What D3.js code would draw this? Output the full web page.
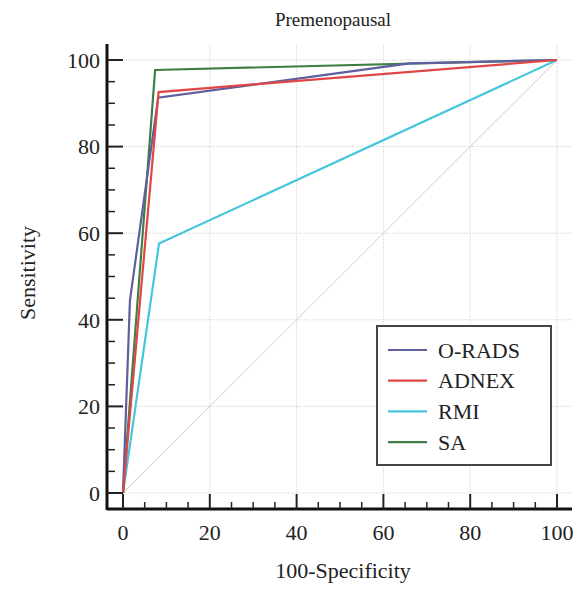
<!DOCTYPE html>
<html>
<head>
<meta charset="utf-8">
<script src="https://cdn.jsdelivr.net/npm/d3@7"></script>
<style>
  body { margin: 0; background: #fff; }
  text { font-family: "Liberation Serif", "Times New Roman", serif; }
</style>
</head>
<body>
<div id="chart"></div>
<script>
// ROC points (100-Specificity, Sensitivity)
var seriesNames = ["O-RADS", "ADNEX", "RMI", "SA"];
var seriesColors = ["#5d5f9e", "#e04646", "#45c6da", "#3f7f45"];
var oradsX = [0, 1.6, 8.1, 66, 100];
var oradsY = [0, 44.5, 91.3, 99.2, 100];
var adnexX = [0, 8.2, 100];
var adnexY = [0, 92.6, 100];
var rmiX = [0, 8.3, 100];
var rmiY = [0, 57.6, 100];
var saX = [0, 7.4, 100];
var saY = [0, 97.7, 100];
var tickValues = [0, 20, 40, 60, 80, 100];

var width = 583, height = 590;
var x = d3.scaleLinear().domain([0, 100]).range([123, 557]);
var y = d3.scaleLinear().domain([0, 100]).range([493, 60]);

var svg = d3.select('#chart').append('svg')
    .attr('width', width)
    .attr('height', height);

// grid
var grid = svg.append('g');
grid.selectAll('line.v').data(tickValues.slice(1)).enter().append('line')
    .attr('x1', function (d) { return x(d); }).attr('x2', function (d) { return x(d); })
    .attr('y1', 45).attr('y2', 509)
    .style('stroke', '#d4d4d4').style('stroke-dasharray', '1,1');
grid.selectAll('line.h').data(tickValues).enter().append('line')
    .attr('x1', 108).attr('x2', 572)
    .attr('y1', function (d) { return y(d); }).attr('y2', function (d) { return y(d); })
    .style('stroke', '#d4d4d4').style('stroke-dasharray', '1,1');

// diagonal
svg.append('line')
    .attr('x1', x(0)).attr('y1', y(0)).attr('x2', x(100)).attr('y2', y(100))
    .style('stroke', '#dcc8c8').style('stroke-width', 1);

// curves
var curves = [[oradsX, oradsY], [adnexX, adnexY], [rmiX, rmiY], [saX, saY]];
var line = d3.line().x(function (d) { return x(d[0]); }).y(function (d) { return y(d[1]); });
var drawOrder = [2, 3, 0, 1];
drawOrder.forEach(function (i) {
    var pts = curves[i][0].map(function (v, k) { return [v, curves[i][1][k]]; });
    svg.append('path').datum(pts)
        .attr('d', line)
        .style('fill', 'none')
        .style('stroke', seriesColors[i])
        .style('stroke-width', 2.2);
});

// axes
var minor = d3.range(0, 101, 5);
var gx = svg.append('g').attr('transform', 'translate(0,509)');
gx.append('line').attr('x1', 107).attr('x2', 572).attr('y1', 0).attr('y2', 0)
    .style('stroke', '#111').style('stroke-width', 3);
gx.selectAll('line.t').data(minor).enter().append('line')
    .attr('x1', function (d) { return x(d); }).attr('x2', function (d) { return x(d); })
    .attr('y1', 0).attr('y2', function (d) { return d % 20 === 0 ? -15 : -7; })
    .style('stroke', '#222').style('stroke-width', function (d) { return d % 20 === 0 ? 2 : 1.5; });
gx.selectAll('text').data(tickValues).enter().append('text')
    .attr('x', function (d) { return x(d); }).attr('y', 31)
    .attr('text-anchor', 'middle').style('font-size', '22px').style('fill', '#222')
    .text(function (d) { return d; });

var gy = svg.append('g').attr('transform', 'translate(107,0)');
gy.append('line').attr('x1', 0).attr('x2', 0).attr('y1', 44).attr('y2', 510)
    .style('stroke', '#111').style('stroke-width', 3);
gy.selectAll('line.t').data(minor).enter().append('line')
    .attr('y1', function (d) { return y(d); }).attr('y2', function (d) { return y(d); })
    .attr('x1', 0).attr('x2', function (d) { return d % 20 === 0 ? 16 : 8; })
    .style('stroke', '#222').style('stroke-width', function (d) { return d % 20 === 0 ? 2 : 1.5; });
gy.selectAll('text').data(tickValues).enter().append('text')
    .attr('x', -7).attr('y', function (d) { return y(d); }).attr('dy', '0.35em')
    .attr('text-anchor', 'end').style('font-size', '22px').style('fill', '#222')
    .text(function (d) { return d; });

// titles
svg.append('text').attr('x', 333).attr('y', 26).attr('text-anchor', 'middle')
    .style('font-size', '19px').style('fill', '#222').text('Premenopausal');
svg.append('text').attr('x', 343).attr('y', 578).attr('text-anchor', 'middle')
    .style('font-size', '22px').style('fill', '#222').text('100-Specificity');
svg.append('text').attr('transform', 'translate(35,273) rotate(-90)').attr('text-anchor', 'middle')
    .style('font-size', '22px').style('fill', '#222').text('Sensitivity');

// legend
var lg = svg.append('g').attr('transform', 'translate(377,326)');
lg.append('rect').attr('width', 174).attr('height', 139)
    .style('fill', '#fff').style('stroke', '#444').style('stroke-width', 2);
seriesNames.forEach(function (n, i) {
    var yy = 24 + i * 30.7;
    lg.append('line').attr('x1', 11).attr('x2', 50).attr('y1', yy).attr('y2', yy)
        .style('stroke', seriesColors[i]).style('stroke-width', 2.2);
    lg.append('text').attr('x', 61).attr('y', yy).attr('dy', '0.35em')
        .style('font-size', '22px').style('fill', '#222').text(n);
});
</script>
</body>
</html>
